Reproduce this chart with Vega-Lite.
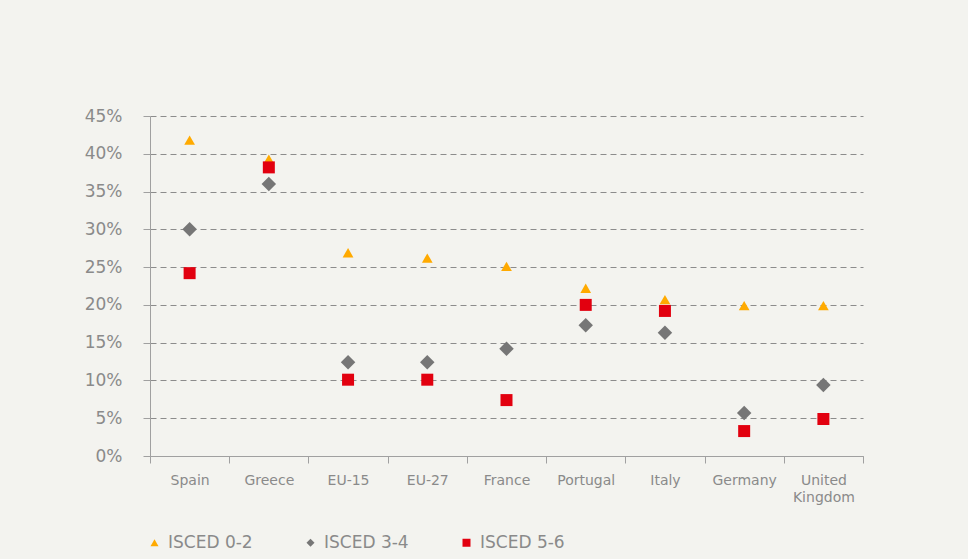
{
  "$schema": "https://vega.github.io/schema/vega-lite/v6.json",
  "autosize": {"type": "none"},
  "width": 713,
  "height": 340,
  "padding": {"left": 150, "top": 116, "right": 105, "bottom": 103},
  "background": "#f3f3ef",
  "config": {
    "view": {"stroke": null},
    "font": "DejaVu Sans"
  },
  "data": {
    "values": [
      {"country": "Spain", "level": "ISCED 0-2", "value": 41.8},
      {"country": "Greece", "level": "ISCED 0-2", "value": 39.3},
      {"country": "EU-15", "level": "ISCED 0-2", "value": 26.9},
      {"country": "EU-27", "level": "ISCED 0-2", "value": 26.2},
      {"country": "France", "level": "ISCED 0-2", "value": 25.1},
      {"country": "Portugal", "level": "ISCED 0-2", "value": 22.2},
      {"country": "Italy", "level": "ISCED 0-2", "value": 20.7},
      {"country": "Germany", "level": "ISCED 0-2", "value": 19.9},
      {"country": "United Kingdom", "level": "ISCED 0-2", "value": 19.9},
      {"country": "Spain", "level": "ISCED 3-4", "value": 30.0},
      {"country": "Greece", "level": "ISCED 3-4", "value": 36.0},
      {"country": "EU-15", "level": "ISCED 3-4", "value": 12.4},
      {"country": "EU-27", "level": "ISCED 3-4", "value": 12.4},
      {"country": "France", "level": "ISCED 3-4", "value": 14.2},
      {"country": "Portugal", "level": "ISCED 3-4", "value": 17.3},
      {"country": "Italy", "level": "ISCED 3-4", "value": 16.3},
      {"country": "Germany", "level": "ISCED 3-4", "value": 5.7},
      {"country": "United Kingdom", "level": "ISCED 3-4", "value": 9.4},
      {"country": "Spain", "level": "ISCED 5-6", "value": 24.2},
      {"country": "Greece", "level": "ISCED 5-6", "value": 38.2},
      {"country": "EU-15", "level": "ISCED 5-6", "value": 10.1},
      {"country": "EU-27", "level": "ISCED 5-6", "value": 10.1},
      {"country": "France", "level": "ISCED 5-6", "value": 7.4},
      {"country": "Portugal", "level": "ISCED 5-6", "value": 20.0},
      {"country": "Italy", "level": "ISCED 5-6", "value": 19.2},
      {"country": "Germany", "level": "ISCED 5-6", "value": 3.3},
      {"country": "United Kingdom", "level": "ISCED 5-6", "value": 4.9}
    ]
  },
  "mark": {"type": "point", "filled": true, "opacity": 1},
  "encoding": {
    "x": {
      "field": "country",
      "type": "nominal",
      "sort": null,
      "scale": {"type": "band", "paddingInner": 0, "paddingOuter": 0},
      "axis": {
        "title": null,
        "labelAngle": 0,
        "labelFontSize": 14,
        "labelColor": "#8a8a8a",
        "labelPadding": 10,
        "labelExpr": "datum.value == 'United Kingdom' ? ['United', 'Kingdom'] : datum.value",
        "labelLineHeight": 17,
        "tickBand": "extent",
        "tickSize": 7,
        "tickColor": "#a0a0a0",
        "domainColor": "#a0a0a0",
        "grid": false
      }
    },
    "y": {
      "field": "value",
      "type": "quantitative",
      "scale": {"domain": [0, 45], "nice": false},
      "axis": {
        "title": null,
        "values": [0, 5, 10, 15, 20, 25, 30, 35, 40, 45],
        "labelExpr": "datum.value + '%'",
        "labelFontSize": 17,
        "labelColor": "#8a8a8a",
        "labelPadding": 21,
        "tickSize": 7,
        "tickColor": "#a0a0a0",
        "domainColor": "#a0a0a0",
        "grid": true,
        "gridColor": "#8c8c8c",
        "gridDash": [6, 4],
        "gridWidth": 1
      }
    },
    "color": {
      "field": "level",
      "type": "nominal",
      "scale": {"domain": ["ISCED 0-2", "ISCED 3-4", "ISCED 5-6"], "range": ["#ffaa00", "#767676", "#e2000f"]},
      "legend": {
        "title": null,
        "orient": "none",
        "direction": "horizontal",
        "legendX": -4,
        "legendY": 418,
        "labelFontSize": 17,
        "labelColor": "#8a8a8a",
        "symbolSize": 64,
        "columnPadding": 49,
        "labelOffset": 5
      }
    },
    "shape": {
      "field": "level",
      "type": "nominal",
      "scale": {"domain": ["ISCED 0-2", "ISCED 3-4", "ISCED 5-6"], "range": ["triangle-up", "diamond", "square"]}
    },
    "size": {
      "condition": [
        {"test": "datum.level == 'ISCED 3-4'", "value": 210},
        {"test": "datum.level == 'ISCED 5-6'", "value": 144}
      ],
      "value": 115
    }
  }
}
